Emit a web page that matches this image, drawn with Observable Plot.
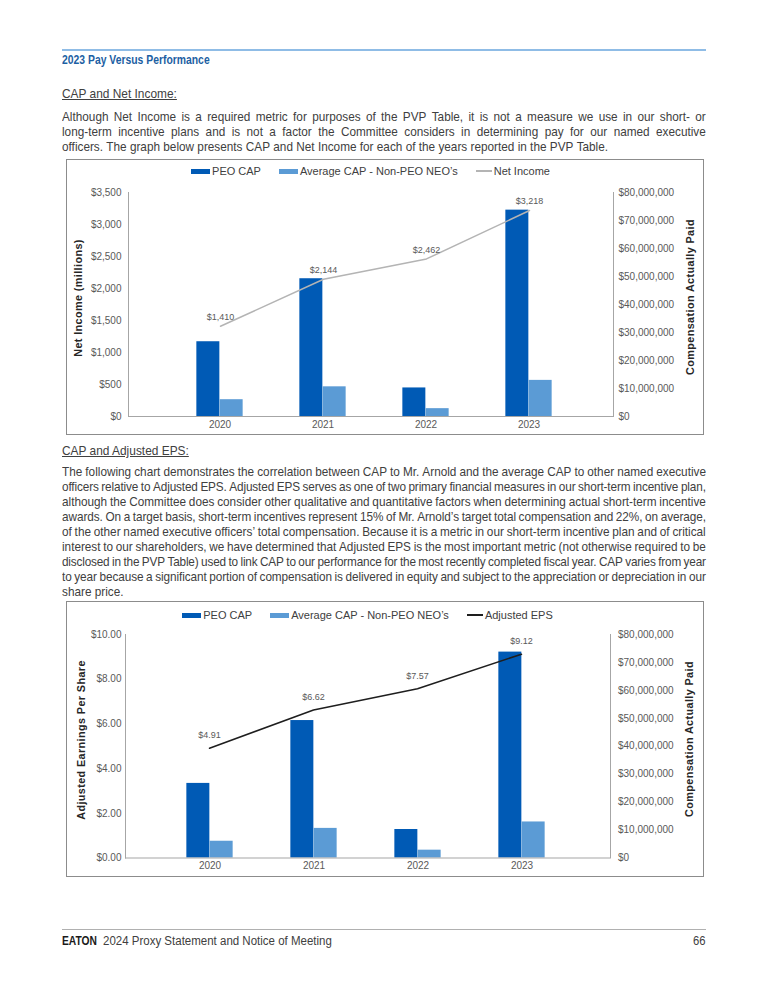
<!DOCTYPE html>
<html>
<head>
<meta charset="utf-8">
<script src="https://cdn.jsdelivr.net/npm/d3@7"></script>
<script src="https://cdn.jsdelivr.net/npm/@observablehq/plot@0.6"></script>
<style>
html,body{margin:0;padding:0;background:#fff;}
#page{position:relative;width:768px;height:993px;overflow:hidden;font-family:"Liberation Sans",Arial,sans-serif;color:#3a3a3a;}
.abs{position:absolute;white-space:nowrap;}
.cond{position:absolute;white-space:nowrap;transform-origin:0 0;}
.para{position:absolute;left:62px;font-size:12.8px;line-height:15px;color:#404040;transform-origin:0 0;}
.para .ln{display:flex;justify-content:space-between;white-space:nowrap;height:15px;}
.para .ln.last{justify-content:flex-start;}
.para .ln.last span{margin-right:0.28em;}
.box{position:absolute;left:66px;width:638px;height:276px;box-sizing:border-box;border:1px solid #8c8c8c;}
.legend{position:absolute;display:flex;justify-content:center;align-items:center;height:14px;font-size:11px;color:#404040;white-space:nowrap;}
.legend .item{display:flex;align-items:center;margin:0 9px;}
.legend .sw{display:inline-block;margin-right:2px;}
.vt{position:absolute;transform:translate(-50%,-50%) rotate(-90deg);font-weight:bold;font-size:10.8px;letter-spacing:0.4px;color:#262626;white-space:nowrap;}
.chart{position:absolute;left:66px;width:638px;}
.chart svg text{fill:#595959;}
</style>
</head>
<body>
<div id="page"></div>
<script>
// ---------------- data ----------------
const years = ["2020", "2021", "2022", "2023"];
const peoCap = [26.7e6, 49.2e6, 10.2e6, 73.7e6];
const neoCap = [6.0e6, 10.6e6, 2.8e6, 12.9e6];
const netIncome = [1410, 2144, 2462, 3218];
const adjEps = [4.91, 6.62, 7.57, 9.12];
const capTicks = [0, 10e6, 20e6, 30e6, 40e6, 50e6, 60e6, 70e6, 80e6];
const netIncomeTicks = [0, 500, 1000, 1500, 2000, 2500, 3000, 3500];
const epsTicks = [0, 2, 4, 6, 8, 10];
const seriesNames = ["PEO CAP", "Average CAP - Non-PEO NEO\u2019s"];
const lineName1 = "Net Income";
const lineName2 = "Adjusted EPS";

const headerTitle = "2023 Pay Versus Performance";
const sub1 = "CAP and Net Income:";
const para1 = [
  "Although Net Income is a required metric for purposes of the PVP Table, it is not a measure we use in our short- or",
  "long-term incentive plans and is not a factor the Committee considers in determining pay for our named executive",
  "officers. The graph below presents CAP and Net Income for each of the years reported in the PVP Table."
];
const sub2 = "CAP and Adjusted EPS:";
const para2 = [
  "The following chart demonstrates the correlation between CAP to Mr. Arnold and the average CAP to other named executive",
  "officers relative to Adjusted EPS. Adjusted EPS serves as one of two primary financial measures in our short-term incentive plan,",
  "although the Committee does consider other qualitative and quantitative factors when determining actual short-term incentive",
  "awards. On a target basis, short-term incentives represent 15% of Mr. Arnold\u2019s target total compensation and 22%, on average,",
  "of the other named executive officers\u2019 total compensation. Because it is a metric in our short-term incentive plan and of critical",
  "interest to our shareholders, we have determined that Adjusted EPS is the most important metric (not otherwise required to be",
  "disclosed in the PVP Table) used to link CAP to our performance for the most recently completed fiscal year. CAP varies from year",
  "to year because a significant portion of compensation is delivered in equity and subject to the appreciation or depreciation in our",
  "share price."
];
const footerBrand = "EATON";
const footerText = "2024 Proxy Statement and Notice of Meeting";
const pageNum = "66";

// ---------------- styles ----------------
const C_DARK = "#005ab5";
const C_LIGHT = "#5b9bd5";
const SX = 0.92; // horizontal condensing of the body font
const page = document.getElementById("page");

function el(tag, cls, css, text) {
  const e = document.createElement(tag);
  if (cls) e.className = cls;
  if (css) Object.assign(e.style, css);
  if (text != null) e.textContent = text;
  page.appendChild(e);
  return e;
}
function cond(css, text, sx) {
  const e = el("div", "cond", css, text);
  e.style.transform = "scaleX(" + (sx || SX) + ")";
  return e;
}

// header
el("div", "abs", {left: "62px", top: "49px", width: "644px", height: "1.5px", background: "#8fbce6"});
cond({left: "62px", top: "52px", fontWeight: "bold", fontSize: "12.5px", color: "#1d5fa3", lineHeight: "16px"}, headerTitle, 0.83);

function para(lines, top) {
  const W = 644 / SX;
  const d = el("div", "para", {top: top + "px", width: W + "px", transform: "scaleX(" + SX + ")"});
  lines.forEach((t, i) => {
    const ln = document.createElement("div");
    ln.className = "ln" + (i === lines.length - 1 ? " last" : "");
    t.split(" ").forEach(w => {
      const s = document.createElement("span");
      s.textContent = w;
      ln.appendChild(s);
    });
    d.appendChild(ln);
    if (i < lines.length - 1) {
      let sum = 0;
      const spans = ln.querySelectorAll("span");
      spans.forEach(s => sum += s.getBoundingClientRect().width / SX);
      const minGap = 3.0 * (spans.length - 1);
      if (sum + minGap > W) {
        ln.style.letterSpacing = ((W - minGap - sum) / t.length) + "px";
      }
    }
  });
}

cond({left: "62px", top: "86px", fontSize: "12.8px", lineHeight: "16px", textDecoration: "underline", color: "#404040"}, sub1, 0.93);
para(para1, 108.5);

cond({left: "62px", top: "443px", fontSize: "12.8px", lineHeight: "16px", textDecoration: "underline", color: "#404040"}, sub2, 0.93);
para(para2, 463.5);

// footer
el("div", "abs", {left: "62px", top: "929px", width: "644px", height: "1px", background: "#b0b0b0"});
cond({left: "62px", top: "933px", fontSize: "12.5px", lineHeight: "16px", color: "#1a1a1a", fontWeight: "bold"}, footerBrand, 0.82);
cond({left: "103px", top: "933px", fontSize: "12.5px", lineHeight: "16px", color: "#404040"}, footerText, 0.92);
cond({left: "693px", top: "933px", fontSize: "12.5px", lineHeight: "16px", color: "#404040"}, pageNum, 0.9);

// legend
function legend(lineName, lineColor, left, cy, width) {
  const d = el("div", "legend", {left: left + "px", top: (cy - 7) + "px", width: width + "px"});
  const items = [
    {name: seriesNames[0], color: C_DARK, w: 19, h: 5},
    {name: seriesNames[1], color: C_LIGHT, w: 19, h: 5},
    {name: lineName, color: lineColor, w: 16, h: 2.5}
  ];
  items.forEach(it => {
    const item = document.createElement("span"); item.className = "item";
    const sw = document.createElement("span"); sw.className = "sw";
    Object.assign(sw.style, {width: it.w + "px", height: it.h + "px", background: it.color});
    const tx = document.createElement("span"); tx.textContent = it.name;
    item.appendChild(sw); item.appendChild(tx); d.appendChild(item);
  });
}

const fmtDollar = d => "$" + d3.format(",")(d);
const fmtEps = d => "$" + d3.format(".2f")(d);

function chart(cfg) {
  el("div", "box", {top: cfg.boxTop + "px"});
  legend(cfg.lineName, cfg.lineColor, cfg.plotLeft, cfg.legendY, cfg.plotWidth);
  const W = 638;
  const step = (cfg.xr[1] - cfg.xr[0]) / years.length;
  const bw = 23.3;
  const pi = 1 - bw / step;
  const rows = years.map((y, i) => ({year: y, peo: peoCap[i], neo: neoCap[i]}));
  const lineRows = years.map((y, i) => ({year: y, v: cfg.values[i]}));
  const common = {
    width: W, height: cfg.h,
    marginLeft: cfg.ml, marginRight: cfg.mr, marginTop: cfg.mt, marginBottom: cfg.mb,
    style: {background: "transparent", fontFamily: "'Liberation Sans', Arial, sans-serif", fontSize: "10px", color: "#a6a6a6", overflow: "visible"}
  };
  const bars = Plot.plot({
    ...common,
    x: {type: "band", domain: years, range: cfg.xr, paddingInner: pi, paddingOuter: pi / 2, tickSize: 0, tickPadding: 4, label: null},
    y: {domain: [0, 80e6], axis: "right", ticks: capTicks, tickFormat: fmtDollar, tickSize: 0, tickPadding: cfg.rp, line: true, label: null},
    marks: [
      Plot.barY(rows, {x: "year", y: "peo", fill: C_DARK, dx: -bw / 2, insetLeft: 0, insetRight: 0}),
      Plot.barY(rows, {x: "year", y: "neo", fill: C_LIGHT, dx: bw / 2, insetLeft: 0, insetRight: 0}),
      Plot.ruleY([0], {stroke: "#a6a6a6", strokeWidth: 1.2})
    ]
  });
  const c0 = cfg.xr[0] + step / 2, c1 = cfg.xr[1] - step / 2;
  const lines = Plot.plot({
    ...common,
    x: {type: "point", domain: years, range: [c0, c1], padding: 0, axis: null},
    y: {domain: [0, cfg.ymax], ticks: cfg.ticks, tickFormat: cfg.fmt, tickSize: 0, tickPadding: cfg.lp, line: true, label: null},
    marks: [
      Plot.line(lineRows, {x: "year", y: "v", stroke: cfg.lineColor, strokeWidth: 1.5}),
      Plot.text(lineRows, {x: "year", y: "v", text: d => cfg.fmt(d.v), dy: cfg.labelDy, fill: "#595959", fontSize: 9})
    ]
  });
  const a = el("div", "chart", {top: cfg.svgTop + "px"}); a.appendChild(bars);
  const b = el("div", "chart", {top: cfg.svgTop + "px"}); b.appendChild(lines);
  el("div", "vt", {left: cfg.ltx + "px", top: cfg.lty + "px"}, cfg.leftTitle);
  el("div", "vt", {left: cfg.rtx + "px", top: cfg.rty + "px"}, "Compensation Actually Paid");
}

chart({
  boxTop: 159, svgTop: 179, h: 256, legendY: 171,
  plotLeft: 128, plotWidth: 485,
  ml: 62, mr: 91, mt: 13, mb: 19,
  xr: [100.8, 516],
  values: netIncome, ymax: 3500, ticks: netIncomeTicks, fmt: fmtDollar,
  lineName: lineName1, lineColor: "#b4b4b4", labelDy: -9,
  lp: 7, rp: 5,
  leftTitle: "Net Income (millions)", ltx: 78, lty: 298, rtx: 690, rty: 297
});

chart({
  boxTop: 601, svgTop: 620, h: 257, legendY: 615,
  plotLeft: 125, plotWidth: 485,
  ml: 59, mr: 94, mt: 14, mb: 19.5,
  xr: [91.3, 507.3],
  values: adjEps, ymax: 10, ticks: epsTicks, fmt: fmtEps,
  lineName: lineName2, lineColor: "#1e1e1e", labelDy: -13,
  lp: 4, rp: 7.5,
  leftTitle: "Adjusted Earnings Per Share", ltx: 81, lty: 740, rtx: 689, rty: 739
});
</script>
</body>
</html>
